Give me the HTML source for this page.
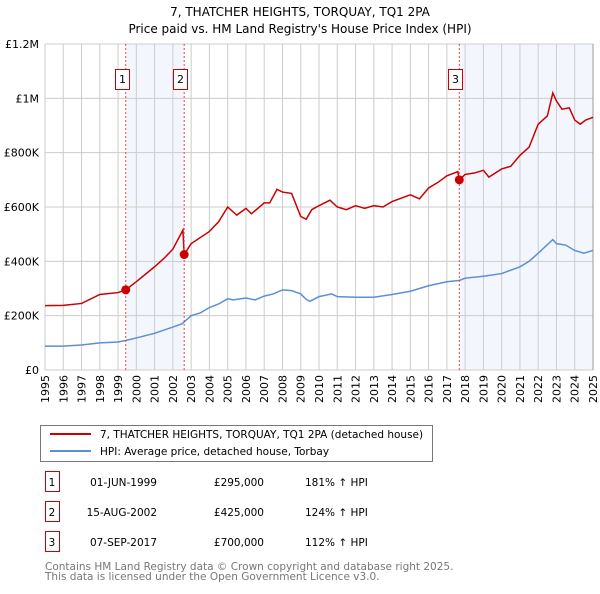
<!DOCTYPE html>
<html><head><meta charset="utf-8"><style>
body{margin:0;background:#fff;font-family:"DejaVu Sans","Liberation Sans",sans-serif;}
svg text{font-family:"DejaVu Sans","Liberation Sans",sans-serif;}
</style></head><body>
<svg id="c" width="600" height="590" viewBox="0 0 600 590" xmlns="http://www.w3.org/2000/svg">
<text x="300" y="16" text-anchor="middle" font-size="12">7, THATCHER HEIGHTS, TORQUAY, TQ1 2PA</text>
<text x="300" y="33" text-anchor="middle" font-size="12">Price paid vs. HM Land Registry's House Price Index (HPI)</text>
<g id="plot"></g>
<rect x="40.5" y="425.5" width="392" height="36" fill="none" stroke="#777"/>
<line x1="50" y1="434" x2="91" y2="434" stroke="#cc0000" stroke-width="2"/>
<text x="100" y="438" font-size="10.5">7, THATCHER HEIGHTS, TORQUAY, TQ1 2PA (detached house)</text>
<line x1="50" y1="451" x2="91" y2="451" stroke="#5b8fd6" stroke-width="2"/>
<text x="100" y="455" font-size="10.5">HPI: Average price, detached house, Torbay</text>
<g id="table" font-size="10.5"></g>
<text x="45" y="570" font-size="10.5" fill="#777">Contains HM Land Registry data © Crown copyright and database right 2025.</text>
<text x="45" y="580" font-size="10.5" fill="#777">This data is licensed under the Open Government Licence v3.0.</text>
</svg>
<script>
const hpiYears=[1995,1996,1997,1998,1999,1999.5,2000,2001,2002,2002.5,2003,2003.5,2004,2004.5,2005,2005.3,2006,2006.5,2007,2007.5,2008,2008.5,2009,2009.3,2009.5,2010,2010.7,2011,2012,2013,2014,2015,2016,2017,2017.7,2018,2019,2020,2021,2021.5,2022,2022.8,2023,2023.5,2024,2024.5,2025];
const hpiValues=[88,88,92,100,103,110,118,135,158,170,200,210,230,243,262,258,265,258,272,280,295,292,280,260,253,270,280,270,268,268,278,290,310,325,330,338,345,355,380,400,430,480,465,460,440,430,440];
const propYears=[1995,1996,1997,1998,1999,1999.42,2000,2001,2001.5,2002,2002.55,2002.62,2003,2004,2004.5,2005,2005.5,2006,2006.3,2007,2007.3,2007.7,2008,2008.5,2009,2009.3,2009.6,2010,2010.6,2011,2011.5,2012,2012.5,2013,2013.5,2014,2015,2015.5,2016,2016.5,2017,2017.6,2017.68,2018,2018.5,2019,2019.3,2020,2020.5,2021,2021.5,2022,2022.5,2022.8,2023,2023.3,2023.7,2024,2024.3,2024.6,2025];
const propValues=[237,238,245,278,285,295,325,380,410,445,515,425,465,510,545,600,570,595,575,615,615,665,655,650,565,555,590,605,625,600,590,605,595,605,600,620,645,630,670,690,715,730,700,720,725,735,710,740,750,790,820,905,935,1020,990,960,965,920,905,920,930];
const saleLabels=["1","2","3"];
const saleYears=[1999.42,2002.62,2017.68];
const saleValues=[295,425,700];
const saleDates=["01-JUN-1999","15-AUG-2002","07-SEP-2017"];
const salePrices=["£295,000","£425,000","£700,000"];
const saleHpi=["181% ↑ HPI","124% ↑ HPI","112% ↑ HPI"];
const yTicks=[0,200,400,600,800,1000,1200];
const yTickLabels=["£0","£200K","£400K","£600K","£800K","£1M","£1.2M"];
const xTicks=[];for(let y=1995;y<=2025;y++)xTicks.push(y);

const X0=45,X1=593,Y0=370,Y1=44;
const x=v=>X0+(v-1995)/30*(X1-X0);
const y=v=>Y0-v/1200*(Y0-Y1);
const NS="http://www.w3.org/2000/svg";
const plot=document.getElementById('plot');
function mk(t,a,p){const e=document.createElementNS(NS,t);for(const k in a)e.setAttribute(k,a[k]);(p||plot).appendChild(e);return e;}

let r=mk('rect',{x:x(saleYears[0]),y:Y1,width:x(saleYears[1])-x(saleYears[0]),height:Y0-Y1,fill:'#eef3fc',opacity:0.7});


r=mk('rect',{x:x(saleYears[2]),y:Y1,width:X1-x(saleYears[2]),height:Y0-Y1,fill:'#eef3fc',opacity:0.7});



xTicks.forEach(t=>{
 const l=mk('line',{x1:x(t),x2:x(t),y1:Y1,y2:Y0,stroke:'#ccc','stroke-width':1});
 
 
 const tx=mk('text',{x:0,y:0,'font-size':11,'text-anchor':'end',transform:`translate(${x(t)+4},${Y0+5}) rotate(-90)`});
 tx.textContent=t;
 
 
});
yTicks.forEach((t,i)=>{
 const l=mk('line',{x1:X0,x2:X1,y1:y(t),y2:y(t),stroke:'#ccc','stroke-width':1});
 
 
 const tx=mk('text',{x:X0-6,y:y(t)+4,'font-size':11,'text-anchor':'end'});
 tx.textContent=yTickLabels[i];
 
 
});
const rb=mk('line',{x1:X1,x2:X1,y1:Y1,y2:Y0,stroke:'#999'});



const hp=mk('polyline',{points:hpiYears.map((v,i)=>x(v)+','+y(hpiValues[i])).join(' '),fill:'none',stroke:'#5b8fd6','stroke-width':1.5});


const pp=mk('polyline',{points:propYears.map((v,i)=>x(v)+','+y(propValues[i])).join(' '),fill:'none',stroke:'#cc0000','stroke-width':1.5});



saleYears.forEach((s,i)=>{
 const l=mk('line',{x1:x(s),x2:x(s),y1:Y1,y2:Y0,stroke:'#ee4444','stroke-width':1,'stroke-dasharray':'2,2'});
 
 
 const c=mk('circle',{cx:x(s),cy:y(saleValues[i]),r:4.5,fill:'#cc0000'});
 
 
 const b=mk('rect',{x:Math.round(x(s))-10.5,y:69.5,width:14,height:20,fill:'#fff',stroke:'#cc0000'});
 
 
 const t=mk('text',{x:Math.round(x(s))-3.5,y:83,'font-size':11,'text-anchor':'middle'});
 t.textContent=saleLabels[i];
 
 
});

const tb=document.getElementById('table');
const rowY=[485,515,545];
saleLabels.forEach((s,i)=>{
 const b=mk('rect',{x:45.5,y:rowY[i]-13.5,width:14,height:20,fill:'#fff',stroke:'#cc0000'},tb);
 
 
 const cells=[[52,s,'middle'],[157,saleDates[i],'end'],[264,salePrices[i],'end'],[305,saleHpi[i],'start']];
 cells.forEach(c=>{
  const t=mk('text',{x:c[0],y:rowY[i]+1,'text-anchor':c[2]},tb);
  t.textContent=c[1];
  
  
 });
});
</script>
</body></html>
